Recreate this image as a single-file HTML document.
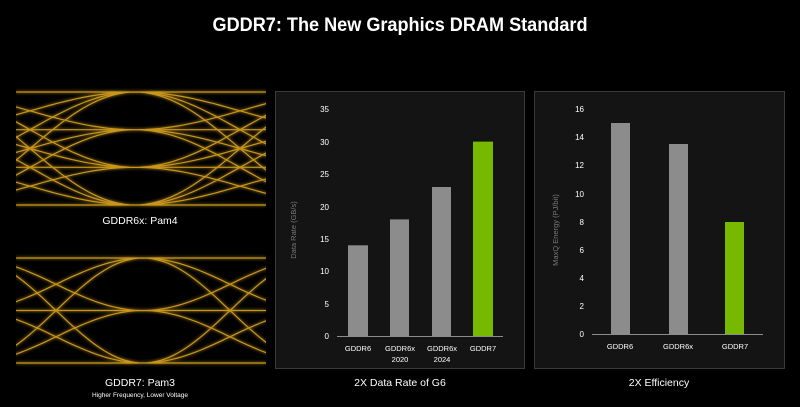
<!DOCTYPE html>
<html><head><meta charset="utf-8"><style>
html,body{margin:0;padding:0;background:#000;}
svg{display:block;font-family:"Liberation Sans",sans-serif;}
</style></head><body>
<svg id="s" width="800" height="407" viewBox="0 0 800 407" xmlns="http://www.w3.org/2000/svg">
<defs>
<filter id="glow" x="-10%" y="-10%" width="120%" height="120%"><feGaussianBlur stdDeviation="1.6" result="b"/><feMerge><feMergeNode in="b"/><feMergeNode in="SourceGraphic"/></feMerge></filter>
<clipPath id="c1"><rect x="16" y="88" width="250" height="121"/></clipPath>
<clipPath id="c2"><rect x="16" y="254" width="250" height="113"/></clipPath>
</defs>
<rect width="800" height="407" fill="#000"/>
<text x="400" y="31" text-anchor="middle" fill="#fff" font-weight="bold" font-size="19" textLength="375" lengthAdjust="spacingAndGlyphs">GDDR7: The New Graphics DRAM Standard</text>
<g id="eye1" clip-path="url(#c1)" filter="url(#glow)" stroke="#c8961e" stroke-width="1.2" fill="none"></g>
<g id="eye2" clip-path="url(#c2)" filter="url(#glow)" stroke="#c8961e" stroke-width="1.2" fill="none"></g>
<text x="140" y="224" text-anchor="middle" fill="#fff" font-size="10.5">GDDR6x: Pam4</text>
<text x="140" y="386" text-anchor="middle" fill="#fff" font-size="10.5">GDDR7: Pam3</text>
<text x="140" y="397" text-anchor="middle" fill="#fff" font-size="6.5">Higher Frequency, Lower Voltage</text>

<rect x="275.5" y="91.5" width="249" height="277" fill="#141414" stroke="#3a3a3a"/>
<g fill="#fff" font-size="8" text-anchor="end">
<text x="329" y="339">0</text><text x="329" y="307">5</text><text x="329" y="274">10</text><text x="329" y="242">15</text><text x="329" y="210">20</text><text x="329" y="177">25</text><text x="329" y="145">30</text><text x="329" y="112">35</text>
</g>
<text transform="translate(296,230) rotate(-90)" text-anchor="middle" fill="#777" font-size="7.5">Data Rate (GB/s)</text>
<g fill="#8c8c8c">
<rect x="348" y="245.3" width="20" height="90.7"/>
<rect x="390" y="219.4" width="19" height="116.6"/>
<rect x="432" y="187" width="19" height="149"/>
</g>
<rect x="473" y="141.6" width="20" height="194.4" fill="#76b900"/>
<line x1="337" y1="336.5" x2="503" y2="336.5" stroke="#8c8c8c"/>
<g fill="#fff" font-size="7.5" text-anchor="middle">
<text x="358" y="351">GDDR6</text><text x="400" y="351">GDDR6x</text><text x="400" y="362">2020</text>
<text x="442" y="351">GDDR6x</text><text x="442" y="362">2024</text><text x="483" y="351">GDDR7</text>
</g>
<text x="400" y="386" text-anchor="middle" fill="#fff" font-size="10.5">2X Data Rate of G6</text>

<rect x="534.5" y="91.5" width="250" height="277" fill="#141414" stroke="#3a3a3a"/>
<g fill="#fff" font-size="8" text-anchor="end">
<text x="584" y="337">0</text><text x="584" y="309">2</text><text x="584" y="281">4</text><text x="584" y="253">6</text><text x="584" y="225">8</text><text x="584" y="197">10</text><text x="584" y="168">12</text><text x="584" y="140">14</text><text x="584" y="112">16</text>
</g>
<text transform="translate(558,230) rotate(-90)" text-anchor="middle" fill="#777" font-size="7.5">MaxQ Energy (PJ/bit)</text>
<g fill="#8c8c8c">
<rect x="611" y="123" width="19" height="211"/>
<rect x="669" y="144" width="19" height="190"/>
</g>
<rect x="725" y="222" width="19" height="112" fill="#76b900"/>
<line x1="592" y1="334.5" x2="763" y2="334.5" stroke="#8c8c8c"/>
<g fill="#fff" font-size="7.5" text-anchor="middle">
<text x="620" y="349">GDDR6</text><text x="678" y="349">GDDR6x</text><text x="735" y="349">GDDR7</text>
</g>
<text x="659" y="386" text-anchor="middle" fill="#fff" font-size="10.5">2X Efficiency</text>
</svg>
<script>
function eye(id,levels,cx,half,x0,x1){
  var g=document.getElementById(id),ns="http://www.w3.org/2000/svg",d="";
  var U=2*half;
  levels.forEach(function(y){d+="M"+x0+" "+y+"H"+x1;});
  for(var k=-2;k<=1;k++){
    var s=cx+k*U;
    levels.forEach(function(a){levels.forEach(function(b){
      if(a===b)return;
      var p="";
      for(var i=0;i<=40;i++){var t=i/40;var x=s+U*t;var y=a+(b-a)*(1-Math.cos(Math.PI*t))/2;p+=(i?"L":"M")+x.toFixed(1)+" "+y.toFixed(1);}
      d+=p;
    });});
  }
  var path=document.createElementNS(ns,"path");path.setAttribute("d",d);g.appendChild(path);
}
eye("eye1",[92,129.7,167.3,205],135,105,16,266);
eye("eye2",[258,310.5,363],143,87,16,266);
</script>
</body></html>
